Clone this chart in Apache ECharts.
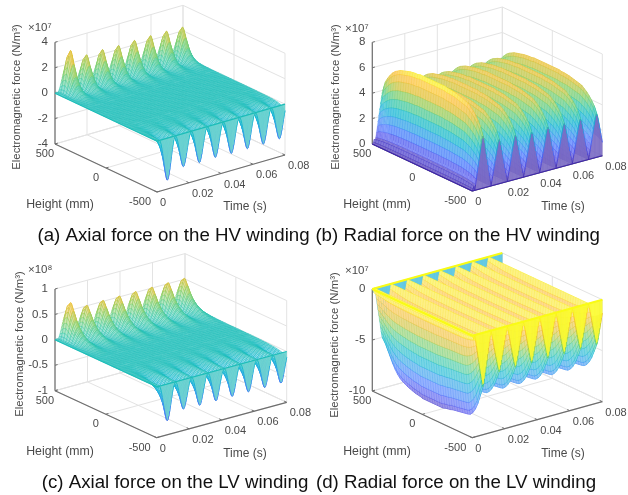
<!DOCTYPE html>
<html><head><meta charset="utf-8">
<style>html,body{margin:0;padding:0;background:#fff}#c{width:628px;height:495px;filter:blur(0.35px)}</style>
<script src="https://cdn.jsdelivr.net/npm/echarts@6/dist/echarts.min.js"></script>
</head><body><div id="c"></div>
<script>
// ---------- values ----------
const heights = [500,475,450,425,400,375,350,325,300,275,250,225,200,175,150,125,100,75,50,25,0,-25,-50,-75,-100,-125,-150,-175,-200,-225,-250,-275,-300,-325,-350,-375,-400,-425,-450,-475,-500];
const leadIn = [0,0.005,0.02];
const axialShape = [0,0.02,0.09,0.2,0.33,0.47,0.62,0.76,0.88,0.97,1,0.97,0.88,0.76,0.62,0.47,0.33,0.2,0.09,0.02];
const radialShape = [0,0.1,0.2,0.31,0.42,0.53,0.64,0.75,0.86,0.95,1,0.95,0.86,0.75,0.64,0.53,0.42,0.31,0.2,0.1];
const radialLeadIn = [0,0.03,0.08];

const axialHVPeaks = [3.3,2.6,2.65,2.6,2.65,2.65,2.65,2.6];
const axialHVProfile = [0.5,0.85,1,0.7,0.42,0.25,0.14,0.08,0.05,0.03,0.02,0.01,0.01,0,0,0,0,0,0,0,0,0,0,0,0,0,0,0,-0.01,-0.01,-0.02,-0.02,-0.03,-0.04,-0.05,-0.08,-0.12,-0.2,-0.32,-0.58,-1];
const radialHVPeaks = [6.6,5.6,5.6,5.4,5.5,5.4,5.4,5.5];
const radialHVProfile = [0.6,0.72,0.78,0.83,0.87,0.9,0.92,0.94,0.95,0.96,0.97,0.98,0.985,0.99,0.99,1,1,1,1,1,1,1,1,1,1,1,0.99,0.99,0.985,0.98,0.97,0.96,0.95,0.94,0.93,0.9,0.87,0.83,0.78,0.72,0.62];
const axialLVPeaks = [0.72,0.58,0.59,0.59,0.59,0.59,0.59,0.59];
const axialLVProfile = [0.6,0.9,1,0.8,0.58,0.43,0.32,0.24,0.18,0.13,0.1,0.07,0.05,0.03,0.02,0.01,0.01,0,0,0,0,0,0,0,-0.01,-0.01,-0.01,-0.02,-0.03,-0.04,-0.05,-0.07,-0.09,-0.12,-0.16,-0.21,-0.27,-0.35,-0.47,-0.66,-1];
const radialLVPeaks = [-9.2,-7.4,-7.4,-7.4,-7.4,-7.4,-7.4,-7.4];
const radialLVProfile = [0.56,0.6,0.66,0.72,0.78,0.83,0.87,0.9,0.92,0.935,0.95,0.96,0.97,0.98,0.985,0.99,1,1,1,1,1,1,1,1,1,0.99,0.985,0.98,0.97,0.965,0.96,0.955,0.95,0.945,0.94,0.93,0.9,0.85,0.78,0.68,0.575];

const timeTicks = [0,0.02,0.04,0.06,0.08];
const timeTickLabels = ['0','0.02','0.04','0.06','0.08'];
const heightTicks = [500,0,-500];
const heightTickLabels = ['500','0','-500'];
const axialHVTicks = [-4,-2,0,2,4];
const radialHVTicks = [0,2,4,6,8];
const axialLVTicks = [-1,-0.5,0,0.5,1];
const radialLVTicks = [-10,-5,0];

const parula = [[.2422,.1504,.6603],[.2803,.2782,.9221],[.2440,.4358,.9988],[.1540,.5902,.9218],[.0297,.7082,.8163],[.1938,.7758,.6251],[.5044,.7993,.3480],[.8634,.7406,.1596],[.9892,.74,.19],[.9769,.9839,.0805]];

const panels = [
 {peaks:axialHVPeaks, profile:axialHVProfile, shape:axialShape, lead:leadIn, ticks:axialHVTicks, zr:[-4,4], clim:[-4.7,4.7],
  L:[55,144],F:[157,192],R:[285,155],H:101.7, exp:'×10⁷',expAt:[28,28],ytAt:[17,97],cap:'(a) Axial force on the HV winding',capAt:[173.5,236],
  xlAt:[60,205],tlAt:[245,207],white:.5,edge:.85,cur:.35,curColor:.5,rim:1.1},
 {peaks:radialHVPeaks, profile:radialHVProfile, shape:radialShape, lead:radialLeadIn, ticks:radialHVTicks, zr:[0,8], clim:[0,6.6],
  L:[372.3,144],F:[472.3,191],R:[602.3,155.7],H:101.7, exp:'×10⁷',expAt:[345,29],ytAt:[336,97],cap:'(b) Radial force on the HV winding',capAt:[457.7,236],
  xlAt:[377,205],tlAt:[563,207],white:.34,edge:.35,band:.75,cur:.32,curColor:0,rim:1.1},
 {peaks:axialLVPeaks, profile:axialLVProfile, shape:axialShape, lead:leadIn, ticks:axialLVTicks, zr:[-1,1], clim:[-1,1],
  L:[55,390.7],F:[156.7,437.7],R:[286.7,402.3],H:101.7, exp:'×10⁸',expAt:[28,270],ytAt:[20,344],cap:'(c) Axial force on the LV winding',capAt:[175,483],
  xlAt:[60,452],tlAt:[245,454],white:.55,edge:.85,cur:.35,curColor:.5,rim:1.1},
 {peaks:radialLVPeaks, profile:radialLVProfile, shape:radialShape, lead:radialLeadIn, ticks:radialLVTicks, zr:[-10,0], clim:[-9.6,0],
  L:[372.3,391],F:[472.3,437.7],R:[602.3,401.7],H:102, exp:'×10⁷',expAt:[345,271],ytAt:[335,345],cap:'(d) Radial force on the LV winding',capAt:[456,483],
  xlAt:[377,452],tlAt:[563,454],white:.46,edge:.3,band:.75,cur:.12,curColor:1,rim:2.2,backCurtain:.3}
];
const FONT = '"Liberation Sans", Arial, sans-serif';
const DT = 0.0005, NT = 160, TMAX = 0.08;

function mix(v,w,a){ v=Math.max(0,Math.min(.9999,v))*(parula.length-1); const k=Math.floor(v),f=v-k,p=parula[k],q=parula[k+1];
  return 'rgba('+[0,1,2].map(c=>{const x=p[c]+(q[c]-p[c])*f;return Math.round(255*(x+(1-x)*w));}).join(',')+','+a+')'; }
function project(P,t,h,z){ const ft=t/TMAX, fh=(500-h)/1000, fz=(z-P.zr[0])/(P.zr[1]-P.zr[0]);
  return [P.L[0]+ft*(P.R[0]-P.F[0])+fh*(P.F[0]-P.L[0]), P.L[1]+ft*(P.R[1]-P.F[1])+fh*(P.F[1]-P.L[1])-fz*P.H]; }
function timeEnvelope(P,i){ if(i<P.lead.length) return P.peaks[0]*P.lead[i]; const n=i-P.lead.length;
  return P.peaks[Math.floor(n/P.shape.length)]*P.shape[n%P.shape.length]; }
panels.forEach(P=>{ P.z=[]; for(let i=0;i<=NT;i++) P.z.push(heights.map((h,j)=>timeEnvelope(P,i)*P.profile[j])); });
const zc=(P,z)=>(z-P.clim[0])/(P.clim[1]-P.clim[0]);

function surfaceSeries(P){
  const data=[];
  if(P.backCurtain) for(let i=NT-1;i>=0;i--) data.push([3,i,0]);
  for(let i=NT-1;i>=0;i--){
    for(let j=0;j<heights.length-1;j++) data.push([0,i,j]);
    if(P.band) for(let j=0;j<heights.length-1;j++) data.push([4,i,j]);
  }
  for(let i=NT-1;i>=0;i--) data.push([1,i,heights.length-1]);
  data.push([2,0,0]);
  const base=Math.max(P.zr[0],Math.min(P.zr[1],0));
  return {type:'custom',coordinateSystem:'cartesian2d',silent:true,animation:false,progressive:0,clip:false,z:3,data,
    encode:{x:1,y:2},
    renderItem(params,api){
      const k=api.value(0),i=api.value(1),j=api.value(2),c=p=>api.coord(p);
      const T=x=>x*DT;
      if(k===0){
        const a=P.z[i][j],b=P.z[i+1][j],d=P.z[i+1][j+1],e=P.z[i][j+1],m=(a+b+d+e)/4,v=zc(P,m);
        return {type:'polygon',shape:{points:[c(project(P,T(i),heights[j],a)),c(project(P,T(i+1),heights[j],b)),c(project(P,T(i+1),heights[j+1],d)),c(project(P,T(i),heights[j+1],e))]},
          style:{fill:mix(v,P.white,1),stroke:mix(v,0,P.edge),lineWidth:.5}};
      }
      if(k===4){
        const a=P.z[i][j],e=P.z[i][j+1],p=c(project(P,T(i),heights[j],a)),q=c(project(P,T(i),heights[j+1],e));
        return {type:'line',shape:{x1:p[0],y1:p[1],x2:q[0],y2:q[1]},style:{stroke:mix(zc(P,(a+e)/2),0,P.band),lineWidth:.6}};
      }
      if(k===1||k===3){
        const jj=k===1?heights.length-1:0,h=heights[jj],a=P.z[i][jj],b=P.z[i+1][jj];
        const pts=[c(project(P,T(i),h,base)),c(project(P,T(i+1),h,base)),c(project(P,T(i+1),h,b)),c(project(P,T(i),h,a))];
        if(k===3) return {type:'polygon',shape:{points:pts},style:{fill:mix(.42,P.backCurtain,1),stroke:mix(.42,P.backCurtain,1),lineWidth:.3}};
        const cf=mix(P.curColor,P.cur,1);
        return {type:'group',children:[
          {type:'polygon',shape:{points:pts},style:{fill:cf,stroke:cf,lineWidth:.3}},
          {type:'line',shape:{x1:pts[3][0],y1:pts[3][1],x2:pts[2][0],y2:pts[2][1]},style:{stroke:mix(zc(P,(a+b)/2),0,.95),lineWidth:.9}}]};
      }
      const rim=(t1,h1,t2,h2)=>{const p=c(project(P,t1,h1,base)),q=c(project(P,t2,h2,base));
        return {type:'line',shape:{x1:p[0],y1:p[1],x2:q[0],y2:q[1]},style:{stroke:mix(P.curColor,0,1),lineWidth:P.rim}};};
      const ch=[rim(0,-500,TMAX,-500),rim(0,500,0,-500)];
      if(P.backCurtain) ch.push(rim(0,500,TMAX,500));
      return {type:'group',children:ch};
    }};
}
function frameSeries(P){
  return {type:'custom',coordinateSystem:'cartesian2d',silent:true,animation:false,clip:false,z:1,data:[[0,0]],
    renderItem(params,api){
      const c=(t,h,z)=>api.coord(project(P,t,h,z)),ch=[],zmin=P.zr[0],zmax=P.zr[1],HT=500,HB=-500;
      const ln=(p,q,s,w)=>ch.push({type:'line',shape:{x1:p[0],y1:p[1],x2:q[0],y2:q[1]},style:{stroke:s,lineWidth:w}});
      const G='#e3e3e3',A='#6e6e6e';
      timeTicks.forEach(t=>{ ln(c(t,HT,zmin),c(t,HB,zmin),G,1); ln(c(t,HT,zmin),c(t,HT,zmax),G,1); });
      heightTicks.forEach(h=>{ ln(c(0,h,zmin),c(TMAX,h,zmin),G,1); ln(c(TMAX,h,zmin),c(TMAX,h,zmax),G,1); });
      P.ticks.forEach(z=>{ ln(c(0,HT,z),c(TMAX,HT,z),G,1); ln(c(TMAX,HT,z),c(TMAX,HB,z),G,1); });
      ln(c(0,HT,zmin),c(0,HT,zmax),A,1.2); ln(c(0,HT,zmin),c(0,HB,zmin),A,1.2); ln(c(0,HB,zmin),c(TMAX,HB,zmin),A,1.2);
      P.ticks.forEach(z=>ln(c(0,HT,z),c(0.0016,HT,z),A,1));
      timeTicks.forEach(t=>ln(c(t,HB,zmin),c(t,HB+25,zmin),A,1));
      heightTicks.forEach(h=>ln(c(0,h,zmin),c(0.0016,h,zmin),A,1));
      const txt=(s,p,align,fs,rot,va)=>ch.push({type:'text',x:p[0],y:p[1],rotation:rot||0,style:{text:s,fontFamily:FONT,fontSize:fs,fill:'#4a4a4a',align:align,verticalAlign:va||'middle'}});
      P.ticks.forEach(z=>{const p=c(0,HT,z);txt(String(z),[p[0]-7,p[1]],'right',11.5);});
      timeTicks.forEach((t,i)=>{const p=c(t,HB,zmin);txt(timeTickLabels[i],[p[0]+3,p[1]+11],'left',11);});
      const dx=[-1,-7,-6];
      heightTicks.forEach((h,i)=>{const p=c(0,h,zmin);txt(heightTickLabels[i],[p[0]+dx[i],p[1]+10],'right',11);});
      txt('Height (mm)',api.coord(P.xlAt),'center',12.3);
      txt('Time (s)',api.coord(P.tlAt),'center',12);
      txt('Electromagnetic force (N/m³)',api.coord(P.ytAt),'center',11.4,Math.PI/2);
      txt(P.exp,api.coord(P.expAt),'left',11.5);
      const cp=api.coord(P.capAt);
      ch.push({type:'text',x:cp[0],y:cp[1],style:{text:P.cap,fontFamily:FONT,fontSize:18.7,fill:'#111',align:'center',verticalAlign:'middle'}});
      return {type:'group',children:ch};
    }};
}
const chart=echarts.init(document.getElementById('c'),null,{renderer:'canvas'});
chart.setOption({animation:false,backgroundColor:'#fff',
  grid:{left:0,right:0,top:0,bottom:0},
  xAxis:{type:'value',min:0,max:628,show:false},
  yAxis:{type:'value',min:0,max:495,inverse:true,show:false},
  series:[...panels.map(frameSeries),...panels.map(surfaceSeries)]});
</script></body></html>
